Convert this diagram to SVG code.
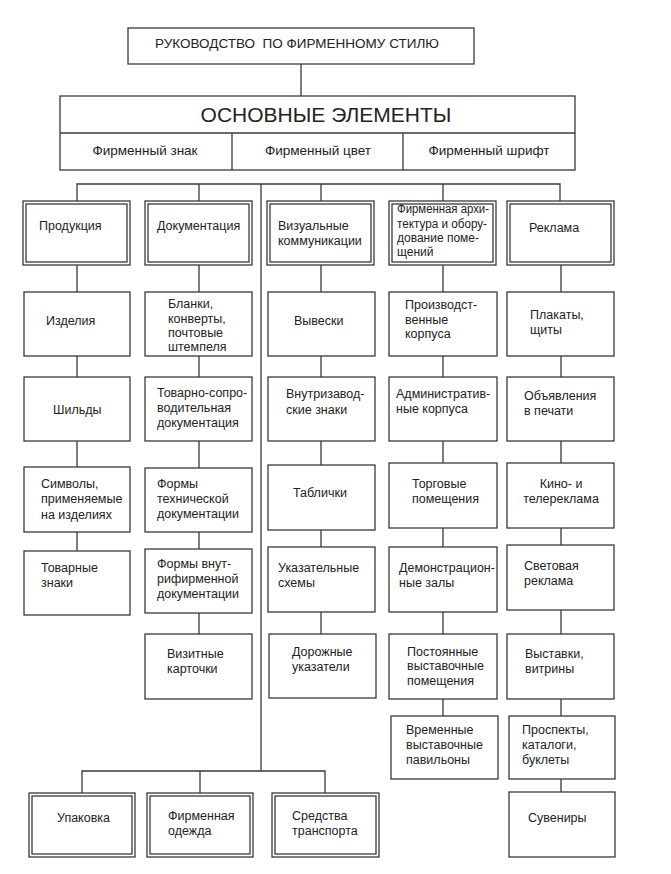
<svg xmlns="http://www.w3.org/2000/svg" width="671" height="874" viewBox="0 0 671 874">
<style>
rect{fill:none;stroke:#3a3a3a;stroke-width:1.3}
.bg{fill:#fff;stroke:none}
line,path{stroke:#3a3a3a;stroke-width:1.3;fill:none}
text{font-family:"Liberation Sans",Arial,sans-serif;font-size:12.5px;fill:#222}
.c{text-anchor:middle}
.h1{font-size:13.5px}
.h0{font-size:21px}
.sm{font-size:12px}
</style>
<rect class="bg" x="0" y="0" width="671" height="874"/>
<g id="connectors">
<line x1="301" y1="64" x2="301" y2="96"/>
<path d="M77 201V184H560V201"/>
<line x1="199" y1="184" x2="199" y2="201"/>
<line x1="321" y1="184" x2="321" y2="201"/>
<line x1="443" y1="184" x2="443" y2="201"/>
<line x1="261" y1="184" x2="261" y2="771"/>
<path d="M82 793V771H325V793"/>
<line x1="200" y1="771" x2="200" y2="793"/>
<path d="M77 265V292M77 356V377M77 441V467M77 532V551"/>
<path d="M199 265V292M199 356V377M199 441V468M199 532V549M199 613V634"/>
<path d="M321 265V292M321 356V377M321 441V465M321 530V547M321 612V634"/>
<path d="M443 265V292M443 356V377M443 441V463M443 528V547M443 612V634M443 699V716"/>
<path d="M561 265V292M561 356V377M561 441V463M561 528V545M561 610V634M561 699V716M561 779V792"/>
</g>
<g id="guide">
<rect x="128" y="28" width="346" height="36"/>
<text class="h1" x="297" y="48" text-anchor="middle" xml:space="preserve">РУКОВОДСТВО  ПО ФИРМЕННОМУ СТИЛЮ</text>
</g>
<g id="main">
<rect x="60" y="96" width="515" height="74"/>
<line x1="60" y1="133" x2="575" y2="133"/>
<line x1="232" y1="133" x2="232" y2="170"/>
<line x1="403" y1="133" x2="403" y2="170"/>
<text class="h0 c" x="326" y="122">ОСНОВНЫЕ ЭЛЕМЕНТЫ</text>
<text class="h1 c" x="145" y="155">Фирменный знак</text>
<text class="h1 c" x="318" y="155">Фирменный цвет</text>
<text class="h1 c" x="489" y="155">Фирменный шрифт</text>
</g>
<g id="produkciya"><rect x="23" y="201" width="107" height="64"/><rect x="26" y="204" width="101" height="58"/><text x="39" y="230">Продукция</text></g>
<g id="dokumentaciya"><rect x="145" y="201" width="107" height="64"/><rect x="148" y="204" width="101" height="58"/><text x="157" y="230">Документация</text></g>
<g id="vizualnye"><rect x="267" y="201" width="107" height="64"/><rect x="270" y="204" width="101" height="58"/><text x="278" y="230">Визуальные</text><text x="278" y="245">коммуникации</text></g>
<g id="arhitektura"><rect x="389" y="201" width="107" height="64"/><rect x="392" y="204" width="101" height="58"/><text class="sm" x="397" y="213" textLength="92" lengthAdjust="spacingAndGlyphs">Фирменная архи-</text><text class="sm" x="397" y="228" textLength="90" lengthAdjust="spacingAndGlyphs">тектура и обору-</text><text class="sm" x="397" y="242">дование поме-</text><text class="sm" x="397" y="256">щений</text></g>
<g id="reklama"><rect x="507" y="201" width="107" height="64"/><rect x="510" y="204" width="101" height="58"/><text x="529" y="232">Реклама</text></g>

<g id="izdeliya"><rect x="24" y="292" width="106" height="64"/><text x="46" y="324.5">Изделия</text></g>
<g id="shildy"><rect x="24" y="377" width="106" height="64"/><text x="53" y="413.5">Шильды</text></g>
<g id="simvoly"><rect x="24" y="467" width="106" height="65"/><text x="41" y="487.5">Символы,</text><text x="41" y="503">применяемые</text><text x="41" y="518.5">на изделиях</text></g>
<g id="tovarnye-znaki"><rect x="24" y="551" width="106" height="64"/><text x="41" y="571.5">Товарные</text><text x="41" y="587">знаки</text></g>

<g id="blanki"><rect x="145" y="292" width="107" height="64"/><text x="168" y="308">Бланки,</text><text x="168" y="322.5">конверты,</text><text x="168" y="337">почтовые</text><text x="168" y="351">штемпеля</text></g>
<g id="tovarno"><rect x="145" y="377" width="107" height="64"/><text x="157" y="396.5">Товарно-сопро-</text><text x="157" y="411.5">водительная</text><text x="157" y="426.5">документация</text></g>
<g id="formy-tech"><rect x="145" y="468" width="107" height="64"/><text x="157" y="487.5">Формы</text><text x="157" y="503">технической</text><text x="157" y="517.5">документации</text></g>
<g id="formy-vnutr"><rect x="145" y="549" width="107" height="64"/><text x="157" y="567.5">Формы внут-</text><text x="157" y="582.5">рифирменной</text><text x="157" y="597.5">документации</text></g>
<g id="vizitnye"><rect x="145" y="634" width="107" height="65"/><text x="167" y="657.5">Визитные</text><text x="167" y="672.5">карточки</text></g>

<g id="vyveski"><rect x="268" y="292" width="107" height="64"/><text x="294" y="324.5">Вывески</text></g>
<g id="vnutrizavod"><rect x="268" y="377" width="107" height="64"/><text x="286" y="398">Внутризавод-</text><text x="286" y="414">ские знаки</text></g>
<g id="tablichki"><rect x="268" y="465" width="107" height="65"/><text x="293" y="496.5">Таблички</text></g>
<g id="ukazatelnye"><rect x="268" y="547" width="107" height="65"/><text x="278" y="571.5">Указательные</text><text x="278" y="586.5">схемы</text></g>
<g id="dorozhnye"><rect x="269" y="634" width="107" height="64"/><text x="292" y="655.5">Дорожные</text><text x="292" y="670.5">указатели</text></g>

<g id="proizvod"><rect x="389" y="292" width="108" height="64"/><text x="405" y="309">Производст-</text><text x="405" y="323.5">венные</text><text x="405" y="338">корпуса</text></g>
<g id="admin"><rect x="389" y="377" width="108" height="64"/><text x="396" y="398">Административ-</text><text x="396" y="413">ные корпуса</text></g>
<g id="torgovye"><rect x="389" y="463" width="108" height="65"/><text x="412" y="487.5">Торговые</text><text x="412" y="502.5">помещения</text></g>
<g id="demonstr"><rect x="389" y="547" width="108" height="65"/><text x="399" y="571.5">Демонстрацион-</text><text x="399" y="586.5">ные залы</text></g>
<g id="postoyannye"><rect x="389" y="634" width="108" height="65"/><text x="407" y="655.5">Постоянные</text><text x="407" y="670">выставочные</text><text x="407" y="684.5">помещения</text></g>
<g id="vremennye"><rect x="391" y="716" width="107" height="63"/><text x="406" y="733.5">Временные</text><text x="406" y="748.5">выставочные</text><text x="406" y="763.5">павильоны</text></g>

<g id="plakaty"><rect x="507" y="292" width="107" height="64"/><text x="530" y="319">Плакаты,</text><text x="530" y="334">щиты</text></g>
<g id="obyavleniya"><rect x="507" y="377" width="107" height="64"/><text x="524" y="400">Объявления</text><text x="524" y="415">в печати</text></g>
<g id="kino"><rect x="507" y="463" width="107" height="65"/><text class="c" x="561" y="487.5">Кино- и</text><text class="c" x="561" y="502.5">телереклама</text></g>
<g id="svetovaya"><rect x="507" y="545" width="107" height="65"/><text x="524" y="569.5">Световая</text><text x="524" y="584.5">реклама</text></g>
<g id="vystavki"><rect x="507" y="634" width="107" height="65"/><text x="525" y="658">Выставки,</text><text x="525" y="672.5">витрины</text></g>
<g id="prospekty"><rect x="509" y="716" width="106" height="63"/><text x="522" y="733.5">Проспекты,</text><text x="522" y="748.5">каталоги,</text><text x="522" y="763.5">буклеты</text></g>
<g id="suveniry"><rect x="509" y="792" width="106" height="65"/><text x="528" y="822">Сувениры</text></g>

<g id="upakovka"><rect x="29" y="793" width="106" height="64"/><rect x="32" y="796" width="100" height="58"/><text x="57" y="822">Упаковка</text></g>
<g id="odezhda"><rect x="147" y="793" width="106" height="64"/><rect x="150" y="796" width="100" height="58"/><text x="168" y="820">Фирменная</text><text x="168" y="835">одежда</text></g>
<g id="transport"><rect x="272" y="793" width="107" height="64"/><rect x="275" y="796" width="101" height="58"/><text x="292" y="820">Средства</text><text x="292" y="835">транспорта</text></g>
</svg>
